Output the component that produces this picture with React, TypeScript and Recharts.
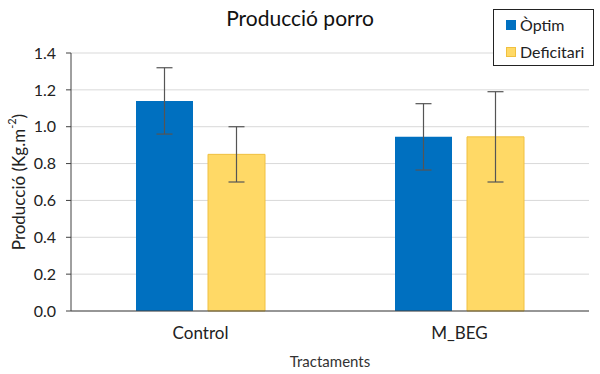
import {
  BarChart,
  Bar,
  XAxis,
  YAxis,
  CartesianGrid,
  ErrorBar,
  Legend,
} from "recharts"

const TRACTAMENTS = ["Control", "M_BEG"]
const OPTIM = [1.14, 0.945]
const OPTIM_ERR = [0.18, 0.18]
const DEFICITARI = [0.85, 0.945]
const DEFICITARI_ERR = [0.15, 0.245]
const Y_TICKS = [0, 0.2, 0.4, 0.6, 0.8, 1.0, 1.2, 1.4]

const BLUE = "#0070c0"
const GOLD = "#ffd966"
const GOLD_EDGE = "#f0c040"
const FONT = "Lato, 'Open Sans', sans-serif"

const data = TRACTAMENTS.map((t, i) => ({
  name: t,
  optim: OPTIM[i],
  optimErr: OPTIM_ERR[i],
  deficitari: DEFICITARI[i],
  deficitariErr: DEFICITARI_ERR[i],
}))

const LegendBox = () => (
  <div
    style={{
      border: "1px solid #222",
      background: "#fff",
      padding: "1px 0 0 12px",
      fontFamily: FONT,
      fontSize: 16,
      color: "#222",
      boxSizing: "border-box",
      width: 101,
      height: 57,
    }}
  >
    {[
      { label: "Òptim", fill: BLUE, edge: BLUE },
      { label: "Deficitari", fill: GOLD, edge: GOLD_EDGE },
    ].map((it) => (
      <div key={it.label} style={{ display: "flex", alignItems: "center", height: 27, whiteSpace: "nowrap" }}>
        <span
          style={{
            display: "inline-block",
            width: 8,
            height: 8,
            background: it.fill,
            border: `1px solid ${it.edge}`,
            marginRight: 4,
          }}
        />
        {it.label}
      </div>
    ))}
  </div>
)

const YLabel = ({ viewBox }: any) => {
  const cy = viewBox.y + viewBox.height / 2
  const cx = 18
  return (
    <text
      x={cx}
      y={cy}
      transform={`rotate(-90 ${cx} ${cy})`}
      textAnchor="middle"
      dominantBaseline="central"
      fontFamily={FONT}
      fontSize={17}
      fill="#222"
    >
      Producció (Kg.m
      <tspan baselineShift="super" fontSize={11}>-2</tspan>
      )
    </text>
  )
}

const XLabel = ({ viewBox }: any) => (
  <text
    x={viewBox.x + viewBox.width / 2}
    y={viewBox.y + 50}
    textAnchor="middle"
    dominantBaseline="central"
    fontFamily={FONT}
    fontSize={15}
    fill="#333"
  >
    Tractaments
  </text>
)

export default function App() {
  return (
    <div style={{ position: "fixed", left: 0, top: 0, width: 600, height: 374, background: "#fff" }}>
      <div
        style={{
          position: "absolute",
          left: 0,
          top: 5,
          width: 600,
          textAlign: "center",
          fontFamily: FONT,
          fontSize: 21,
          color: "#111",
          lineHeight: "26px",
        }}
      >
        Producció porro
      </div>
      <BarChart
        width={600}
        height={374}
        data={data}
        margin={{ top: 53, right: 11, bottom: 18, left: 0 }}
        barSize={57}
        barGap={15}
      >
        <CartesianGrid vertical={false} stroke="#d9d9d9" />
        <XAxis
          dataKey="name"
          height={45}
          tickLine={false}
          axisLine={{ stroke: "#404040" }}
          tickMargin={10}
          tick={{ fill: "#222", fontSize: 17, fontFamily: FONT }}
          label={{ content: XLabel }}
        />
        <YAxis
          width={71}
          domain={[0, 1.4]}
          ticks={Y_TICKS}
          tickFormatter={(v: number) => v.toFixed(1)}
          tickLine={{ stroke: "#404040" }}
          tickSize={5}
          tickMargin={10}
          axisLine={{ stroke: "#404040" }}
          tick={{ fill: "#222", fontSize: 16, fontFamily: FONT }}
          label={{ content: YLabel }}
        />
        <Legend
          layout="vertical"
          align="center"
          verticalAlign="middle"
          wrapperStyle={{ position: "absolute", top: 9, left: 493, width: 101 }}
          content={LegendBox}
        />
        <Bar dataKey="optim" name="Òptim" fill={BLUE} isAnimationActive={false}>
          <ErrorBar dataKey="optimErr" width={8} stroke="#555" strokeWidth={1.2} direction="y" />
        </Bar>
        <Bar
          dataKey="deficitari"
          name="Deficitari"
          fill={GOLD}
          stroke={GOLD_EDGE}
          strokeWidth={1}
          isAnimationActive={false}
        >
          <ErrorBar dataKey="deficitariErr" width={8} stroke="#555" strokeWidth={1.2} direction="y" />
        </Bar>
      </BarChart>
    </div>
  )
}
